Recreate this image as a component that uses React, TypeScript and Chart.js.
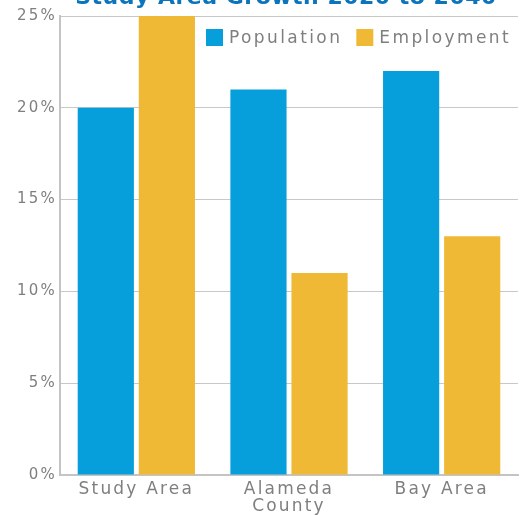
import React, { useEffect, useRef } from 'react';
import { Chart, registerables } from 'chart.js';

Chart.register(...registerables);

const title = 'Study Area Growth 2020 to 2040';
const categories = [['Study Area'], ['Alameda', 'County'], ['Bay Area']];
const seriesNames = ['Population', 'Employment'];
const population = [20, 21, 22];
const employment = [25, 11, 13];
const seriesColors = ['#069fdc', '#efb935'];
const yMin = 0;
const yMax = 25;
const yStep = 5;

const FONT = '"DejaVu Sans", sans-serif';
const GRAY_TEXT = '#7f7f7f';

const decorPlugin = {
  id: 'decor',
  beforeLayout(chart: any) {
    chart.ctx.letterSpacing = '2.2px';
  },
  beforeDraw(chart: any) {
    chart.ctx.letterSpacing = '2.2px';
  },
  afterDraw(chart: any) {
    const ctx = chart.ctx;
    ctx.save();
    ctx.letterSpacing = '0.5px';
    ctx.font = `bold 22px ${FONT}`;
    ctx.fillStyle = '#0b74bb';
    ctx.textAlign = 'center';
    ctx.textBaseline = 'alphabetic';
    ctx.fillText(title, 286, 4);

    // legend
    ctx.letterSpacing = '2.4px';
    ctx.font = `17px ${FONT}`;
    ctx.textAlign = 'left';
    ctx.textBaseline = 'middle';
    let x = 206;
    const yTop = 29;
    const box = 17;
    chart.data.datasets.forEach((ds: any) => {
      ctx.fillStyle = ds.backgroundColor;
      ctx.fillRect(x, yTop, box, box);
      x += box + 6;
      ctx.fillStyle = GRAY_TEXT;
      ctx.fillText(ds.label, x, yTop + box / 2 + 1);
      x += ctx.measureText(ds.label).width + 14;
    });
    ctx.restore();
  },
};

export default function App() {
  const ref = useRef<HTMLCanvasElement | null>(null);
  useEffect(() => {
    if (!ref.current) return;
    const chart = new Chart(ref.current, {
      type: 'bar',
      data: {
        labels: categories,
        datasets: [
          { label: seriesNames[0], data: population, backgroundColor: seriesColors[0] },
          { label: seriesNames[1], data: employment, backgroundColor: seriesColors[1] },
        ],
      },
      options: {
        responsive: false,
        animation: false,
        layout: { padding: { top: 16, right: 8, left: 0, bottom: 0 } },
        datasets: {
          bar: { categoryPercentage: 0.8, barPercentage: 0.92 },
        },
        plugins: {
          legend: { display: false },
          tooltip: { enabled: false },
          title: { display: false },
        },
        scales: {
          x: {
            grid: { display: false, drawTicks: false },
            border: { display: true, color: '#c4c4c4', width: 2 },
            ticks: {
              color: GRAY_TEXT,
              font: { family: FONT, size: 17, lineHeight: 1.0 },
              padding: 6,
              maxRotation: 0,
              autoSkip: false,
            },
            afterFit: (s: any) => {
              s.height = 40;
            },
          },
          y: {
            min: yMin,
            max: yMax,
            grid: { color: '#c8c8c8', lineWidth: 1, drawTicks: false },
            border: { display: true, color: '#c4c4c4', width: 2 },
            ticks: {
              stepSize: yStep,
              color: GRAY_TEXT,
              font: { family: FONT, size: 15 },
              padding: 3,
              callback: (v: any) => `${v}%`,
            },
            afterFit: (s: any) => {
              s.width = 60;
            },
          },
        },
      },
      plugins: [decorPlugin],
    });
    return () => chart.destroy();
  }, []);
  return (
    <canvas
      ref={ref}
      width={526}
      height={515}
      style={{ position: 'absolute', left: 0, top: 0, display: 'block' }}
    />
  );
}
